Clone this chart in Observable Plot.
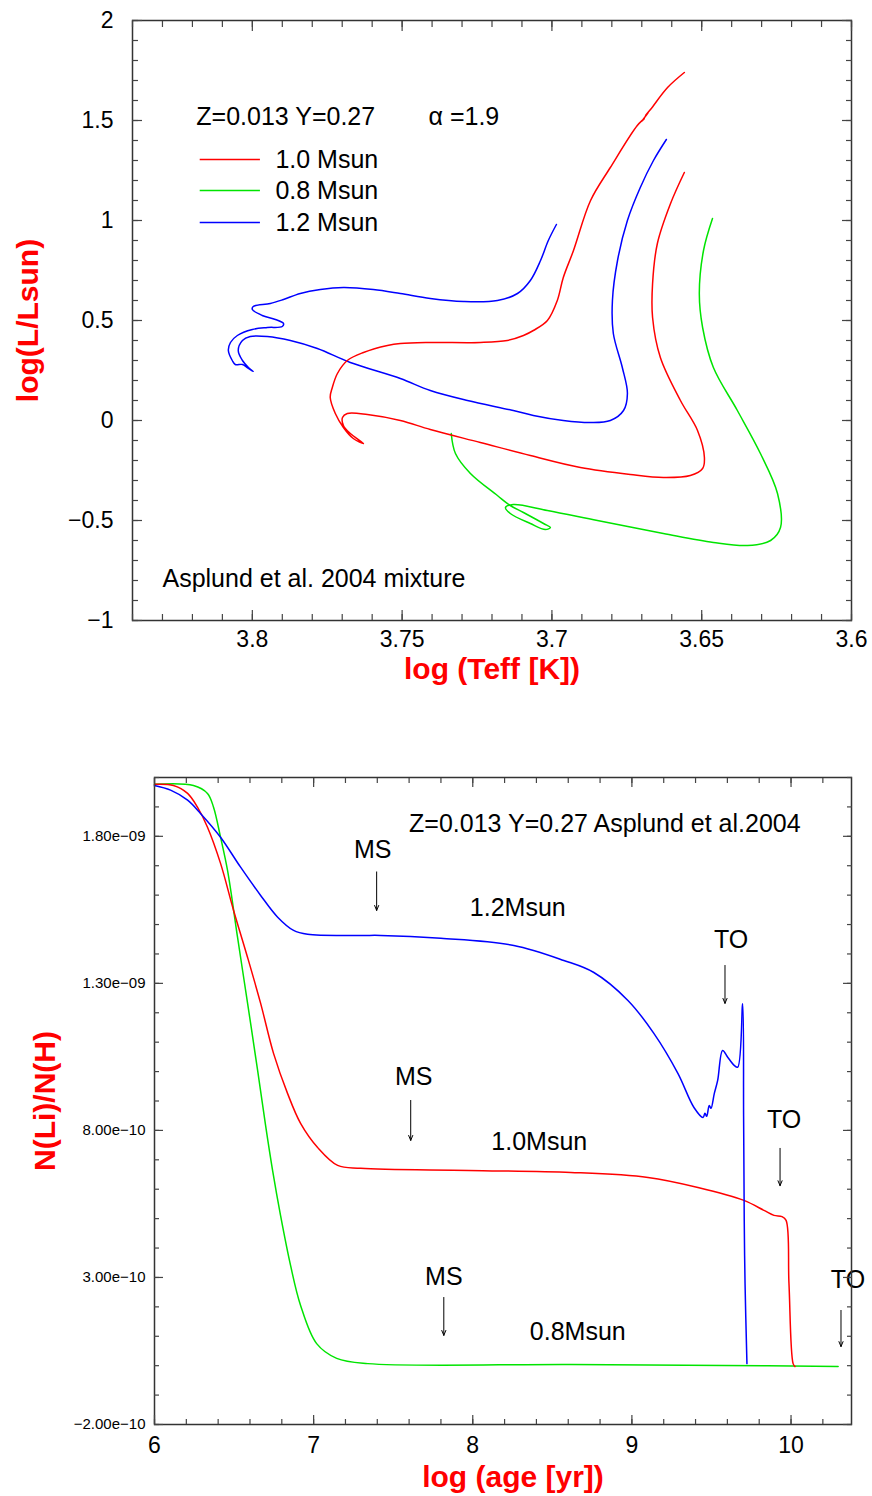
<!DOCTYPE html>
<html><head><meta charset="utf-8">
<script src="https://cdn.jsdelivr.net/npm/d3@7"></script>
<script src="https://cdn.jsdelivr.net/npm/@observablehq/plot@0.6"></script>
<style>
html,body{margin:0;padding:0;background:#fff;}
#wrap{width:872px;height:1496px;position:relative;overflow:hidden;background:#fff;}
#top{position:absolute;left:0;top:0;}
#bot{position:absolute;left:0;top:700px;}
</style></head>
<body><div id="wrap"><div id="top"></div><div id="bot"></div></div>
<script>
const FONT = '"Liberation Sans", Arial, Helvetica, sans-serif';
const RED = "#ff0000", GREEN = "#00e400", BLUE = "#0000ff";

// ---------- HR diagram: [log Teff, log L/Lsun] ----------
const hr10 = [
  [3.6558,1.24],[3.6604,1.085],[3.6648,0.885],[3.6664,0.685],[3.6664,0.515],[3.6638,0.315],
  [3.6571,0.10],[3.6514,-0.05],[3.6491,-0.185],[3.6497,-0.24],[3.6538,-0.275],[3.6628,-0.285],
  [3.6738,-0.27],[3.6905,-0.235],[3.7072,-0.175],[3.7239,-0.11],[3.7406,-0.045],[3.7506,0.0],
  [3.7616,0.03],[3.7683,0.035],[3.7699,0.015],[3.7696,-0.025],[3.7673,-0.065],[3.7629,-0.115],
  [3.7663,-0.09],[3.7696,-0.035],[3.7723,0.035],[3.7740,0.115],[3.7733,0.165],[3.7716,0.235],
  [3.7683,0.30],[3.7629,0.34],[3.7549,0.375],[3.7506,0.385],[3.7406,0.39],[3.7239,0.39],
  [3.7149,0.40],[3.7095,0.425],[3.7062,0.45],[3.7015,0.50],[3.6982,0.60],[3.6962,0.715],
  [3.6928,0.85],[3.6871,1.10],[3.6805,1.265],[3.6715,1.475],[3.6691,1.51],[3.6701,1.495],
  [3.6678,1.54],[3.6688,1.525],[3.6671,1.555],[3.6614,1.665],[3.6558,1.74]
];
const hr08 = [
  [3.6464,1.01],[3.6494,0.85],[3.6508,0.635],[3.6497,0.465],[3.6461,0.265],[3.6381,0.05],
  [3.6304,-0.165],[3.6247,-0.365],[3.6237,-0.535],[3.6270,-0.60],[3.6347,-0.625],[3.6461,-0.61],
  [3.6628,-0.565],[3.6848,-0.50],[3.7015,-0.45],[3.7129,-0.42],[3.7155,-0.435],[3.7139,-0.465],
  [3.7072,-0.515],[3.7022,-0.545],[3.7005,-0.535],[3.7028,-0.515],[3.7095,-0.46],[3.7139,-0.425],
  [3.7182,-0.375],[3.7272,-0.265],[3.7322,-0.165],[3.7336,-0.065]
];
const hr12 = [
  [3.6618,1.405],[3.6661,1.30],[3.6705,1.165],[3.6748,1.00],[3.6781,0.80],[3.6798,0.60],
  [3.6795,0.435],[3.6765,0.265],[3.6748,0.135],[3.6761,0.05],[3.6805,0.0],[3.6871,-0.01],
  [3.6962,0.0],[3.7062,0.025],[3.7129,0.05],[3.7282,0.10],[3.7406,0.15],[3.7506,0.21],
  [3.7673,0.29],[3.7783,0.36],[3.7873,0.40],[3.7950,0.42],[3.8007,0.42],[3.8033,0.40],
  [3.8047,0.35],[3.8033,0.30],[3.8013,0.265],[3.7997,0.245],[3.8017,0.265],[3.8033,0.28],
  [3.8057,0.28],[3.8067,0.30],[3.8080,0.35],[3.8073,0.39],[3.8050,0.425],[3.8000,0.455],
  [3.7950,0.465],[3.7900,0.47],[3.7896,0.485],[3.7923,0.505],[3.7967,0.525],[3.8000,0.555],
  [3.7997,0.57],[3.7940,0.585],[3.7896,0.605],[3.7840,0.635],[3.7773,0.655],[3.7696,0.665],
  [3.7596,0.655],[3.7506,0.635],[3.7406,0.61],[3.7295,0.595],[3.7182,0.60],[3.7115,0.635],
  [3.7072,0.70],[3.7038,0.80],[3.7012,0.90],[3.6985,0.98]
];
const teffTicks = [3.8, 3.75, 3.7, 3.65, 3.6];
const teffTickLabels = ["3.8", "3.75", "3.7", "3.65", "3.6"];
const lumTicks = [2, 1.5, 1, 0.5, 0, -0.5, -1];
const lumTickLabels = ["2", "1.5", "1", "0.5", "0", "\u22120.5", "\u22121"];
const legendNames = ["1.0 Msun", "0.8 Msun", "1.2 Msun"];
const legendColors = [RED, GREEN, BLUE];
const legendRowY = [1.305, 1.15, 0.99];
const hrNotes = [
  {label: "Z=0.013 Y=0.27", x: 3.8187, y: 1.52},
  {label: "\u03b1 =1.9", x: 3.7412, y: 1.52},
  {label: "Asplund et al. 2004 mixture", x: 3.8300, y: -0.79}
];

// ---------- Li depletion: [log age, N(Li)/N(H)] ----------
const li12 = [
  [6.000,19.73e-10],[6.101,19.57e-10],[6.208,19.23e-10],[6.289,18.78e-10],[6.415,17.97e-10],
  [6.541,16.95e-10],[6.667,15.99e-10],[6.774,15.25e-10],[6.874,14.80e-10],[6.962,14.67e-10],
  [7.296,14.63e-10],[7.421,14.63e-10],[7.799,14.53e-10],[8.258,14.29e-10],[8.572,13.78e-10],
  [8.761,13.37e-10],[8.975,12.42e-10],[9.138,11.30e-10],[9.289,9.94e-10],[9.390,8.78e-10],
  [9.447,8.44e-10],[9.459,8.58e-10],[9.470,8.48e-10],[9.486,8.85e-10],[9.497,8.75e-10],
  [9.518,9.26e-10],[9.539,9.70e-10],[9.570,10.72e-10],[9.602,10.49e-10],[9.643,10.21e-10],
  [9.665,10.15e-10],[9.696,12.31e-10],[9.702,8.45e-10],[9.706,4.94e-10],[9.711,2.80e-10],
  [9.723,0.07e-10]
];
const li10 = [
  [6.000,19.77e-10],[6.119,19.73e-10],[6.208,19.46e-10],[6.270,18.99e-10],[6.333,18.31e-10],
  [6.415,17.08e-10],[6.497,15.48e-10],[6.585,13.88e-10],[6.667,12.32e-10],[6.748,10.62e-10],
  [6.836,9.26e-10],[6.918,8.24e-10],[7.025,7.42e-10],[7.151,6.81e-10],[7.296,6.71e-10],
  [7.975,6.64e-10],[8.616,6.57e-10],[9.101,6.40e-10],[9.415,6.06e-10],[9.704,5.62e-10],
  [9.830,5.28e-10],[9.893,5.11e-10],[9.943,5.07e-10],[9.969,4.94e-10],[9.987,2.80e-10],
  [10.013,0.07e-10],[10.025,-0.03e-10]
];
const li08 = [
  [6.000,19.77e-10],[6.245,19.73e-10],[6.333,19.46e-10],[6.371,18.99e-10],[6.415,17.97e-10],
  [6.459,16.84e-10],[6.522,14.56e-10],[6.585,12.32e-10],[6.648,10.04e-10],[6.698,8.17e-10],
  [6.742,6.64e-10],[6.792,5.11e-10],[6.855,3.41e-10],[6.918,2.05e-10],[7.019,0.75e-10],
  [7.145,0.25e-10],[7.340,0.07e-10],[8.616,0.04e-10],[9.579,0.01e-10],[10.296,-0.03e-10]
];
const ageTicks = [6, 7, 8, 9, 10];
const liTicks = [-2e-10, 3e-10, 8e-10, 1.3e-9, 1.8e-9];
const liTickLabels = ["\u22122.00e\u221210", "3.00e\u221210", "8.00e\u221210", "1.30e\u221209", "1.80e\u221209"];
const liNotes = [
  {label: "Z=0.013 Y=0.27 Asplund et al.2004", x: 8.830, y: 18.41e-10},
  {label: "MS", x: 7.371, y: 17.52e-10},
  {label: "1.2Msun", x: 8.283, y: 15.55e-10},
  {label: "TO", x: 9.623, y: 14.46e-10},
  {label: "MS", x: 7.629, y: 9.80e-10},
  {label: "1.0Msun", x: 8.418, y: 7.59e-10},
  {label: "TO", x: 9.956, y: 8.34e-10},
  {label: "MS", x: 7.818, y: 3.03e-10},
  {label: "0.8Msun", x: 8.660, y: 1.16e-10},
  {label: "TO", x: 10.358, y: 2.90e-10}
];
const liArrows = [
  {x: 7.396, y1: 16.79e-10, y2: 15.48e-10},
  {x: 9.585, y1: 13.61e-10, y2: 12.32e-10},
  {x: 7.610, y1: 9.02e-10, y2: 7.66e-10},
  {x: 9.931, y1: 7.39e-10, y2: 6.12e-10},
  {x: 7.818, y1: 2.32e-10, y2: 1.03e-10},
  {x: 10.314, y1: 1.88e-10, y2: 0.65e-10}
];

// ---------- helpers ----------
const TICK = "#444";
function frameTicks(xMajor, xMinor, yMajor, yMinor, maj, min) {
  const o = {fill: "none", label: null, stroke: TICK, strokeWidth: 1.2};
  return [
    Plot.axisX(xMajor, {...o, anchor: "bottom", tickSize: maj, dy: -maj}),
    Plot.axisX(xMinor, {...o, anchor: "bottom", tickSize: min, dy: -min}),
    Plot.axisX(xMajor, {...o, anchor: "top", tickSize: maj, dy: maj}),
    Plot.axisX(xMinor, {...o, anchor: "top", tickSize: min, dy: min}),
    Plot.axisY(yMajor, {...o, anchor: "left", tickSize: maj, dx: maj}),
    Plot.axisY(yMinor, {...o, anchor: "left", tickSize: min, dx: min}),
    Plot.axisY(yMajor, {...o, anchor: "right", tickSize: maj, dx: -maj}),
    Plot.axisY(yMinor, {...o, anchor: "right", tickSize: min, dx: -min})
  ];
}
const lineOpts = (c) => ({x: d => d[0], y: d => d[1], stroke: c, strokeWidth: 1.5, curve: "catmull-rom"});

// ---------- top: HR diagram ----------
const teffMinor = d3.range(360, 385).map(d => d / 100);
const lumMinor = d3.range(-10, 21).map(d => d / 10);
const legendRows = legendNames.map((n, i) => ({name: n, color: legendColors[i], y: legendRowY[i]}));

const topPlot = Plot.plot({
  width: 872, height: 700,
  marginTop: 20, marginBottom: 80, marginLeft: 132, marginRight: 21,
  style: {fontFamily: FONT, background: "white", color: "black"},
  x: {domain: [3.84, 3.6]},
  y: {domain: [-1, 2]},
  marks: [
    Plot.line(hr12, lineOpts(BLUE)),
    Plot.line(hr08, lineOpts(GREEN)),
    Plot.line(hr10, lineOpts(RED)),
    Plot.ruleY(legendRows, {y: "y", x1: 3.8174, x2: 3.7973, stroke: "color", strokeWidth: 1.5}),
    Plot.text(legendRows, {x: 3.7923, y: "y", text: "name", textAnchor: "start", fontSize: 25, fill: "black"}),
    Plot.text(hrNotes, {x: "x", y: "y", text: "label", textAnchor: "start", fontSize: 25, fill: "black"}),
    Plot.frame({stroke: "#333", strokeWidth: 1.5}),
    ...frameTicks(teffTicks, teffMinor, lumTicks, lumMinor, 10, 6),
    Plot.axisX(teffTicks, {anchor: "bottom", tickSize: 0, tickPadding: 10, fontSize: 23, label: null,
      tickFormat: d => teffTickLabels[teffTicks.indexOf(d)]}),
    Plot.axisY(lumTicks, {anchor: "left", tickSize: 0, tickPadding: 19, fontSize: 23, label: null,
      tickFormat: d => lumTickLabels[lumTicks.indexOf(d)]}),
    Plot.text(["log (Teff [K])"], {frameAnchor: "bottom", dy: 58, textAnchor: "middle", text: d => d, fontSize: 30, fontWeight: "bold", fill: RED}),
    Plot.text(["log(L/Lsun)"], {frameAnchor: "left", dx: -104, rotate: -90, textAnchor: "middle", text: d => d, fontSize: 30, fontWeight: "bold", fill: RED})
  ]
});
document.getElementById("top").appendChild(topPlot);

// ---------- bottom: Li depletion ----------
const ageMinor = d3.range(30, 52).map(d => d / 5);
const liMinor = d3.range(-2, 21).map(d => d * 1e-10);

const botPlot = Plot.plot({
  width: 872, height: 796,
  marginTop: 77, marginBottom: 72, marginLeft: 154, marginRight: 21,
  style: {fontFamily: FONT, background: "white", color: "black"},
  x: {domain: [6, 10.38]},
  y: {domain: [-2e-10, 2.0e-9]},
  marks: [
    Plot.line(li08, lineOpts(GREEN)),
    Plot.line(li10, lineOpts(RED)),
    Plot.line(li12, lineOpts(BLUE)),
    Plot.arrow(liArrows, {x1: "x", x2: "x", y1: "y1", y2: "y2", stroke: "black", strokeWidth: 1, headLength: 8, headAngle: 45}),
    Plot.text(liNotes, {x: "x", y: "y", text: "label", textAnchor: "middle", fontSize: 25, fill: "black"}),
    Plot.frame({stroke: "#333", strokeWidth: 1.5}),
    ...frameTicks(ageTicks, ageMinor, liTicks, liMinor, 9, 5),
    Plot.axisX(ageTicks, {anchor: "bottom", tickSize: 0, tickPadding: 12, fontSize: 23, label: null,
      tickFormat: d => String(d)}),
    Plot.axisY(liTicks, {anchor: "left", tickSize: 0, tickPadding: 9, fontSize: 15, label: null,
      tickFormat: d => liTickLabels[liTicks.indexOf(d)]}),
    Plot.text(["log (age [yr])"], {frameAnchor: "bottom", dy: 62, dx: 10, textAnchor: "middle", text: d => d, fontSize: 30, fontWeight: "bold", fill: RED}),
    Plot.text(["N(Li)/N(H)"], {frameAnchor: "left", dx: -109, rotate: -90, textAnchor: "middle", text: d => d, fontSize: 30, fontWeight: "bold", fill: RED})
  ]
});
document.getElementById("bot").appendChild(botPlot);
</script>
</body></html>
